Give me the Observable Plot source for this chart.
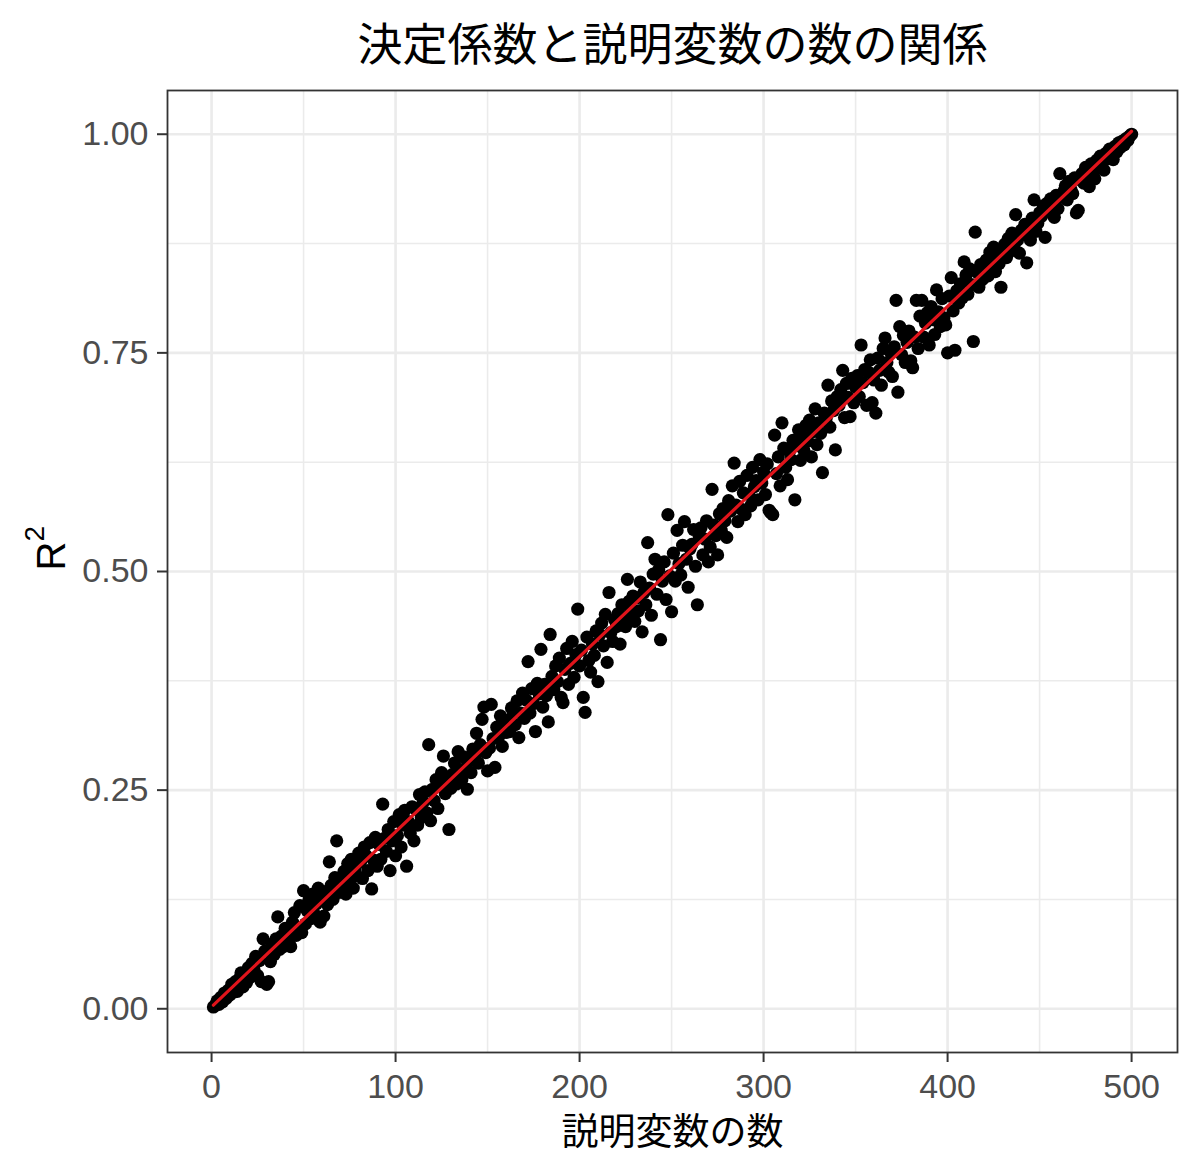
<!DOCTYPE html>
<html>
<head>
<meta charset="utf-8">
<script src="https://cdn.jsdelivr.net/npm/d3@7"></script>
<script src="https://cdn.jsdelivr.net/npm/@observablehq/plot@0.6"></script>
<style>
  html, body { margin: 0; padding: 0; background: #fff; }
  #chart svg { display: block; }
</style>
</head>
<body>
<div id="chart"></div>
<script>
const titleText = "決定係数と説明変数の数の関係";
const xTitle = "説明変数の数";
const yTitleBase = "R";
const yTitleSup = "2";

const xMajorTicks = [0, 100, 200, 300, 400, 500];
const xMinorTicks = [50, 150, 250, 350, 450];
const yMajorTicks = [0, 0.25, 0.5, 0.75, 1.0];
const yMinorTicks = [0.125, 0.375, 0.625, 0.875];

// number of explanatory variables: 1..500
const nVars = Array.from({length: 500}, (_, i) => i + 1);

// R², one per number of variables
const r2 = [
  .002,.004,.009,.005,.013,.008,.018,.012,.021,.016,
  .028,.019,.031,.020,.034,.041,.025,.038,.030,.047,
  .036,.052,.045,.060,.038,.055,.031,.080,.066,.028,
  .031,.054,.074,.062,.080,.105,.068,.083,.071,.092,
  .088,.076,.071,.099,.110,.084,.093,.118,.087,.135,
  .097,.112,.125,.103,.131,.108,.120,.138,.099,.127,
  .106,.134,.119,.168,.141,.125,.150,.192,.133,.145,
  .139,.157,.131,.166,.148,.171,.138,.160,.152,.178,
  .168,.149,.185,.175,.158,.190,.137,.170,.196,.163,
  .188,.171,.234,.195,.180,.205,.158,.192,.214,.175,
  .198,.222,.185,.210,.227,.163,.214,.201,.231,.192,
  .228,.210,.245,.219,.236,.248,.224,.302,.215,.251,
  .238,.262,.229,.258,.270,.289,.246,.265,.205,.252,
  .268,.281,.257,.294,.272,.262,.288,.275,.251,.283,
  .270,.297,.289,.315,.281,.302,.331,.345,.293,.272,
  .298,.348,.309,.276,.322,.311,.335,.300,.327,.316,
  .330,.317,.344,.339,.325,.352,.310,.338,.361,.332,
  .353,.397,.338,.366,.349,.317,.372,.360,.411,.345,
  .371,.358,.328,.428,.380,.365,.392,.374,.401,.356,
  .350,.388,.412,.371,.395,.420,.379,.405,.457,.392,
  .410,.356,.339,.425,.398,.385,.417,.404,.432,.374,
  .428,.441,.415,.451,.396,.476,.430,.420,.445,.437,
  .452,.417,.462,.448,.437,.491,.466,.455,.472,.443,
  .470,.455,.488,.431,.476,.462,.533,.481,.450,.497,
  .514,.474,.502,.422,.489,.511,.468,.565,.495,.454,
  .521,.489,.547,.509,.496,.530,.557,.514,.482,.526,
  .531,.548,.506,.462,.540,.550,.519,.537,.558,.511,
  .528,.594,.553,.541,.519,.566,.547,.572,.558,.539,
  .581,.569,.598,.624,.576,.557,.603,.571,.590,.565,
  .610,.588,.575,.619,.597,.604,.582,.628,.601,.614,
  .588,.623,.570,.567,.565,.656,.612,.631,.598,.670,
  .641,.619,.605,.637,.628,.650,.582,.644,.662,.627,
  .655,.638,.667,.649,.673,.631,.660,.686,.645,.670,
  .658,.613,.681,.675,.713,.665,.695,.684,.639,.700,
  .690,.708,.730,.676,.715,.699,.677,.721,.693,.711,
  .724,.700,.759,.716,.731,.690,.728,.742,.693,.719,
  .681,.744,.730,.713,.755,.767,.739,.728,.751,.723,
  .757,.810,.705,.780,.748,.770,.739,.762,.775,.741,
  .733,.768,.810,.755,.792,.810,.768,.784,.796,.759,
  .803,.788,.771,.822,.797,.780,.812,.790,.782,.750,
  .815,.836,.798,.753,.821,.807,.829,.813,.854,.839,
  .817,.846,.828,.763,.888,.842,.825,.851,.834,.847,
  .856,.838,.865,.849,.871,.843,.860,.852,.825,.868,
  .874,.859,.881,.866,.887,.872,.908,.879,.864,.890,
  .886,.897,.853,.892,.879,.904,.925,.889,.898,.910,
  .906,.918,.882,.921,.912,.926,.909,.905,.930,.915,
  .955,.928,.934,.941,.925,.946,.937,.932,.950,.910,
  .913,.948,.955,.944,.962,.951,.940,.966,.957,.949,
  .970,.965,.975,.968,.959,.978,.972,.983,.976,.971,
  .986,.980,.990,.985,.992,.988,.995,.993,.998,1.000
];

const data = nVars.map((n, i) => ({n, r2: r2[i]}));

const gridColor = "#ebebeb";
const sans = "Arial, 'Liberation Sans', sans-serif";
const cjk = "'Noto Sans CJK JP', 'Noto Sans', sans-serif";

const chart = Plot.plot({
  width: 1200,
  height: 1175,
  marginLeft: 167,
  marginRight: 23,
  marginTop: 90,
  marginBottom: 123,
  style: {fontFamily: sans, background: "#fff"},
  x: {domain: [-23.95, 524.95]},
  y: {domain: [-0.05, 1.05]},
  marks: [
    Plot.gridX(xMinorTicks, {stroke: gridColor, strokeOpacity: 1, strokeWidth: 1.6}),
    Plot.gridY(yMinorTicks, {stroke: gridColor, strokeOpacity: 1, strokeWidth: 1.6}),
    Plot.gridX(xMajorTicks, {stroke: gridColor, strokeOpacity: 1, strokeWidth: 2.6}),
    Plot.gridY(yMajorTicks, {stroke: gridColor, strokeOpacity: 1, strokeWidth: 2.6}),
    Plot.dot(data, {x: "n", y: "r2", r: 6.6, fill: "#000", stroke: "none"}),
    Plot.linearRegressionY(data, {x: "n", y: "r2", stroke: "#e0141b", strokeWidth: 3.2, ci: 0}),
    Plot.frame({stroke: "#333", strokeWidth: 1.8}),
    Plot.axisX(xMajorTicks, {
      tickSize: 10, tickPadding: 11, fontSize: 34, stroke: "#333", strokeWidth: 2,
      fill: "#4d4d4d", label: null
    }),
    Plot.axisY(yMajorTicks, {
      tickSize: 10, tickPadding: 9, fontSize: 34, stroke: "#333", strokeWidth: 2,
      fill: "#4d4d4d", label: null, tickFormat: d3.format(".2f")
    }),
    Plot.text([titleText], {
      frameAnchor: "top", dy: -61, fontSize: 45, fontFamily: cjk, fill: "#000"
    }),
    Plot.text([xTitle], {
      frameAnchor: "bottom", dy: 92, fontSize: 37, fontFamily: cjk, fill: "#000"
    }),
    Plot.text([yTitleBase], {
      frameAnchor: "left", dx: -115, dy: -1, rotate: -90, fontSize: 40, fontFamily: sans,
      fill: "#000", className: "ytitle"
    })
  ]
});

// turn the y title into R with a superscript 2
const yt = chart.querySelector(".ytitle text");
if (yt) {
  yt.textContent = "";
  const base = document.createElementNS("http://www.w3.org/2000/svg", "tspan");
  base.textContent = yTitleBase;
  const sup = document.createElementNS("http://www.w3.org/2000/svg", "tspan");
  sup.textContent = yTitleSup;
  sup.setAttribute("font-size", "28");
  sup.setAttribute("dy", "-21");
  yt.appendChild(base);
  yt.appendChild(sup);
}

document.getElementById("chart").appendChild(chart);
</script>
</body>
</html>
